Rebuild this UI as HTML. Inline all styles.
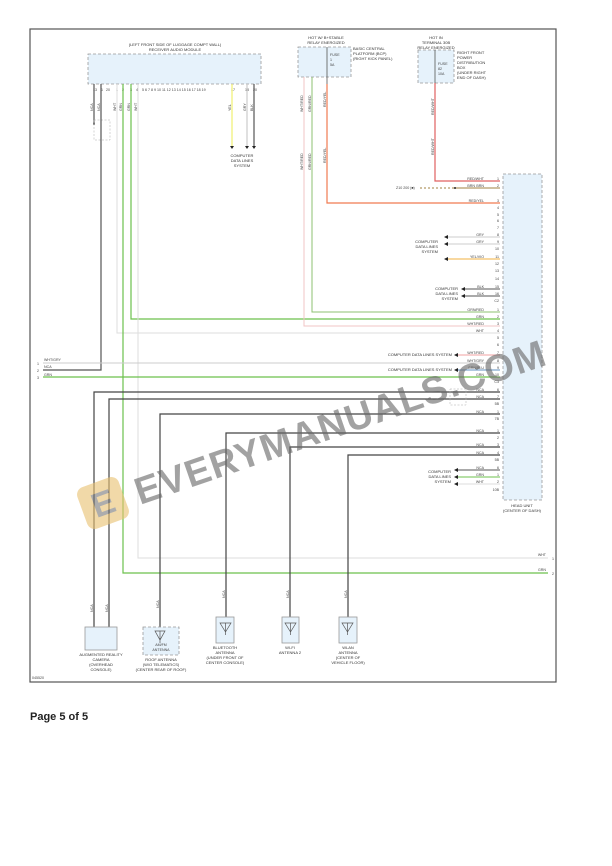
<!DOCTYPE html>
<html><head><meta charset="utf-8"><style>
html,body{margin:0;padding:0;background:#fff;}
svg{display:block;font-family:"Liberation Sans",sans-serif;}
.t{font-size:4px;fill:#333;}
.n{font-size:3.6px;fill:#444;}
</style></head><body>
<svg width="612" height="866" viewBox="0 0 612 866" xmlns="http://www.w3.org/2000/svg">
<rect x="30" y="29" width="526" height="653" fill="#fff" stroke="#555" stroke-width="1.2"/>

<!-- Receiver audio module -->
<text class="t" x="175" y="46" text-anchor="middle">(LEFT FRONT SIDE OF LUGGAGE COMPT WALL)</text>
<text class="t" x="175" y="51" text-anchor="middle">RECEIVER AUDIO MODULE</text>
<rect x="88" y="54" width="173" height="30" fill="#e6f2fb" stroke="#999" stroke-dasharray="3,2" stroke-width="0.8"/>
<g class="n">
<text x="93" y="91">13</text><text x="101" y="91">1</text><text x="106" y="91">20</text><text x="116" y="91">1</text><text x="122" y="91">2</text><text x="130" y="91">3</text><text x="136" y="91">4</text>
<text x="142" y="91">5 6 7 8 9 10 11 12 13 14 15 16 17 18 19</text><text x="231" y="91">17</text><text x="245" y="91">18</text><text x="253" y="91">20</text>
</g>
<line x1="94" y1="84" x2="94" y2="124" stroke="#555" stroke-width="1.2"/>
<circle cx="94" cy="124" r="0.9" fill="#333"/>
<rect x="94" y="120" width="16" height="20" fill="none" stroke="#aaa" stroke-dasharray="2,1.5" stroke-width="0.5"/>
<polyline points="101,84 101,370 43,370" fill="none" stroke="#555" stroke-width="1.2"/>
<polyline points="117,84 117,333 500,333" fill="none" stroke="#ddd" stroke-width="1"/>
<polyline points="123,84 123,573 548,573" fill="none" stroke="#6cc04c" stroke-width="1.2"/>
<polyline points="131,84 131,319 500,319" fill="none" stroke="#6cc04c" stroke-width="1.2"/>
<polyline points="138,84 138,558 548,558" fill="none" stroke="#ddd" stroke-width="1"/>
<g class="n">
<text transform="translate(93,111) rotate(-90)">NCA</text><text transform="translate(100,111) rotate(-90)">NCA</text>
<text transform="translate(116,111) rotate(-90)">WHT</text><text transform="translate(122,111) rotate(-90)">GRN</text>
<text transform="translate(130,111) rotate(-90)">GRN</text><text transform="translate(137,111) rotate(-90)">WHT</text>
<text transform="translate(231,111) rotate(-90)">YEL</text><text transform="translate(246,111) rotate(-90)">GRY</text><text transform="translate(253,111) rotate(-90)">BLK</text>
</g>
<line x1="232" y1="84" x2="232" y2="146" stroke="#f0f070" stroke-width="1.2"/>
<line x1="247" y1="84" x2="247" y2="146" stroke="#ccc" stroke-width="1.2"/>
<line x1="254" y1="84" x2="254" y2="146" stroke="#555" stroke-width="1.2"/>
<polygon points="230,146 234,146 232,149" fill="#222"/><polygon points="245,146 249,146 247,149" fill="#222"/><polygon points="252,146 256,146 254,149" fill="#222"/>
<text class="t" x="242" y="157" text-anchor="middle">COMPUTER</text><text class="t" x="242" y="162" text-anchor="middle">DATA LINES</text><text class="t" x="242" y="167" text-anchor="middle">SYSTEM</text>

<!-- BCP -->
<text class="t" x="326" y="39" text-anchor="middle">HOT W/ B+STABLE</text><text class="t" x="326" y="44" text-anchor="middle">RELAY ENERGIZED</text>
<rect x="298" y="47" width="53" height="30" fill="#e6f2fb" stroke="#999" stroke-dasharray="3,2" stroke-width="0.8"/>
<line x1="327" y1="47" x2="327" y2="84" stroke="#555" stroke-width="0.8"/>
<text class="n" x="330" y="56">FUSE</text><text class="n" x="330" y="61">1</text><text class="n" x="330" y="66">5A</text>
<text class="t" x="353" y="50">BASIC CENTRAL</text><text class="t" x="353" y="55">PLATFORM (BCP)</text><text class="t" x="353" y="60">(RIGHT KICK PANEL)</text>
<polyline points="304,77 304,326 500,326" fill="none" stroke="#f2c4c4" stroke-width="1"/>
<polyline points="312,77 312,312 500,312" fill="none" stroke="#8cc070" stroke-width="1"/>
<polyline points="327,84 327,203 500,203" fill="none" stroke="#f07a50" stroke-width="1.2"/>
<g class="n">
<text transform="translate(303,112) rotate(-90)">WHT/RED</text><text transform="translate(311,112) rotate(-90)">GRN/RED</text><text transform="translate(326,107) rotate(-90)">RED/YEL</text>
<text transform="translate(303,170) rotate(-90)">WHT/RED</text><text transform="translate(311,170) rotate(-90)">GRN/RED</text><text transform="translate(326,163) rotate(-90)">RED/YEL</text>
</g>

<!-- Right front PDB -->
<text class="t" x="436" y="39" text-anchor="middle">HOT IN</text><text class="t" x="436" y="44" text-anchor="middle">TERMINAL 30B</text><text class="t" x="436" y="49" text-anchor="middle">RELAY ENERGIZED</text>
<rect x="418" y="50" width="36" height="33" fill="#e6f2fb" stroke="#999" stroke-dasharray="3,2" stroke-width="0.8"/>
<line x1="435" y1="50" x2="435" y2="83" stroke="#555" stroke-width="0.8"/>
<text class="n" x="438" y="65">FUSE</text><text class="n" x="438" y="70">82</text><text class="n" x="438" y="75">10A</text>
<text class="t" x="457" y="54">RIGHT FRONT</text><text class="t" x="457" y="59">POWER</text><text class="t" x="457" y="64">DISTRIBUTION</text><text class="t" x="457" y="69">BOX</text><text class="t" x="457" y="74">(UNDER RIGHT</text><text class="t" x="457" y="79">END OF DASH)</text>
<polyline points="435,83 435,181 500,181" fill="none" stroke="#e06060" stroke-width="1.2"/>
<text class="n" transform="translate(434,115) rotate(-90)">RED/WHT</text><text class="n" transform="translate(434,155) rotate(-90)">RED/WHT</text>
<text class="n" x="396" y="189">Z10 200 (■)</text>
<line x1="420" y1="188" x2="455" y2="188" stroke="#a08040" stroke-dasharray="2,2" stroke-width="1"/>
<line x1="455" y1="188" x2="500" y2="188" stroke="#a08040" stroke-width="1"/>
<circle cx="455" cy="188" r="1" fill="#222"/>

<!-- Head unit -->
<rect x="503" y="174" width="39" height="326" fill="#e6f2fb" stroke="#999" stroke-dasharray="3,2" stroke-width="0.8"/>
<text class="t" x="522" y="507" text-anchor="middle">HEAD UNIT</text><text class="t" x="522" y="512" text-anchor="middle">(CENTER OF DASH)</text>
<g class="n" text-anchor="end">
<text x="499" y="180">1</text><text x="499" y="187">2</text><text x="499" y="202">3</text><text x="499" y="209">4</text><text x="499" y="216">5</text><text x="499" y="222">6</text><text x="499" y="229">7</text><text x="499" y="236">8</text><text x="499" y="243">9</text><text x="499" y="250">10</text><text x="499" y="258">11</text><text x="499" y="265">12</text><text x="499" y="272">13</text><text x="499" y="280">14</text><text x="499" y="288">15</text><text x="499" y="295">16</text><text x="499" y="302">C2</text>
<text x="499" y="311">1</text><text x="499" y="318">2</text><text x="499" y="325">3</text><text x="499" y="332">4</text><text x="499" y="339">5</text><text x="499" y="346">6</text><text x="499" y="354">7</text><text x="499" y="362">8</text><text x="499" y="369">9</text><text x="499" y="376">10</text><text x="499" y="383">C3</text>
<text x="499" y="391">6</text><text x="499" y="398">7</text><text x="499" y="405">5B</text><text x="499" y="413">1</text><text x="499" y="420">7B</text>
<text x="499" y="432">1</text><text x="499" y="439">2</text><text x="499" y="446">3</text><text x="499" y="454">4</text><text x="499" y="461">5B</text><text x="499" y="469">6</text><text x="499" y="476">1</text><text x="499" y="483">2</text><text x="499" y="491">10B</text>
<text x="484" y="180">RED/WHT</text><text x="484" y="187">BRN</text><text x="484" y="202">RED/YEL</text><text x="484" y="236">GRY</text><text x="484" y="243">GRY</text><text x="484" y="258">YEL/VIO</text><text x="484" y="288">BLK</text><text x="484" y="295">BLK</text>
<text x="484" y="311">GRN/RED</text><text x="484" y="318">GRN</text><text x="484" y="325">WHT/RED</text><text x="484" y="332">WHT</text><text x="484" y="354">WHT/RED</text><text x="484" y="362">WHT/GRY</text><text x="484" y="369">GRN/BLU</text><text x="484" y="376">GRN</text>
<text x="484" y="391">NCA</text><text x="484" y="398">NCA</text><text x="484" y="413">NCA</text><text x="484" y="432">NCA</text><text x="484" y="446">NCA</text><text x="484" y="454">NCA</text><text x="484" y="469">NCA</text><text x="484" y="476">GRN</text><text x="484" y="483">WHT</text>
<text x="475" y="187">BRN</text>
</g>
<g stroke-width="1" fill="none">
<line x1="447" y1="237" x2="500" y2="237" stroke="#ccc"/>
<line x1="447" y1="244" x2="500" y2="244" stroke="#ccc"/>
<line x1="447" y1="259" x2="500" y2="259" stroke="#f0b040"/>
<line x1="464" y1="289" x2="500" y2="289" stroke="#555"/>
<line x1="464" y1="296" x2="500" y2="296" stroke="#555"/>
<line x1="457" y1="355" x2="500" y2="355" stroke="#f0a0a0"/>
<line x1="43" y1="363" x2="500" y2="363" stroke="#ccc"/>
<line x1="457" y1="370" x2="500" y2="370" stroke="#6090c0"/>
<line x1="43" y1="377" x2="500" y2="377" stroke="#6cc04c" stroke-width="1.2"/>
<line x1="457" y1="470" x2="500" y2="470" stroke="#555"/>
<line x1="457" y1="477" x2="500" y2="477" stroke="#6cc04c"/>
<line x1="457" y1="484" x2="500" y2="484" stroke="#ddd"/>
</g>
<g fill="#222">
<polygon points="444,237 448,235 448,239"/><polygon points="444,244 448,242 448,246"/><polygon points="444,259 448,257 448,261"/>
<polygon points="461,289 465,287 465,291"/><polygon points="461,296 465,294 465,298"/>
<polygon points="454,355 458,353 458,357"/><polygon points="454,370 458,368 458,372"/>
<polygon points="454,470 458,468 458,472"/><polygon points="454,477 458,475 458,479"/><polygon points="454,484 458,482 458,486"/>
</g>
<g class="t" text-anchor="end">
<text x="438" y="243">COMPUTER</text><text x="438" y="248">DATA LINES</text><text x="438" y="253">SYSTEM</text>
<text x="458" y="290">COMPUTER</text><text x="458" y="295">DATA LINES</text><text x="458" y="300">SYSTEM</text>
<text x="452" y="356">COMPUTER DATA LINES SYSTEM</text><text x="452" y="371">COMPUTER DATA LINES SYSTEM</text>
<text x="451" y="473">COMPUTER</text><text x="451" y="478">DATA LINES</text><text x="451" y="483">SYSTEM</text>
</g>
<text class="n" x="37" y="365">1</text><text class="n" x="37" y="372">2</text><text class="n" x="37" y="379">3</text>
<text class="n" x="44" y="361">WHT/GRY</text><text class="n" x="44" y="368">NCA</text><text class="n" x="44" y="376">GRN</text>

<g fill="none" stroke="#444" stroke-width="1.2">
<polyline points="500,392 94,392 94,627"/>
<polyline points="500,399 109,399 109,627"/>
<polyline points="500,414 160,414 160,627"/>
<polyline points="500,433 226,433 226,617"/>
<polyline points="500,447 290,447 290,617"/>
<polyline points="500,455 348,455 348,617"/>
</g>
<rect x="450" y="389" width="16" height="16" fill="none" stroke="#aaa" stroke-dasharray="2,1.5" stroke-width="0.5"/>
<text class="n" x="552" y="560">1</text><text class="n" x="552" y="575">2</text>
<text class="n" x="546" y="556" text-anchor="end">WHT</text><text class="n" x="546" y="571" text-anchor="end">GRN</text>
<g class="n">
<text transform="translate(93,612) rotate(-90)">NCA</text><text transform="translate(108,612) rotate(-90)">NCA</text>
<text transform="translate(159,608) rotate(-90)">NCA</text><text transform="translate(225,598) rotate(-90)">NCA</text>
<text transform="translate(289,598) rotate(-90)">NCA</text><text transform="translate(347,598) rotate(-90)">NCA</text>
</g>

<rect x="85" y="627" width="32" height="23" fill="#e6f2fb" stroke="#999" stroke-width="0.8"/>
<g class="t" text-anchor="middle">
<text x="101" y="656">AUGMENTED REALITY</text><text x="101" y="661">CAMERA</text><text x="101" y="666">(OVERHEAD</text><text x="101" y="671">CONSOLE)</text>
</g>
<rect x="143" y="627" width="36" height="28" fill="#e6f2fb" stroke="#999" stroke-dasharray="3,2" stroke-width="0.8"/>
<rect x="216" y="617" width="18" height="26" fill="#e6f2fb" stroke="#999" stroke-width="0.8"/>
<rect x="282" y="617" width="17" height="26" fill="#e6f2fb" stroke="#999" stroke-width="0.8"/>
<rect x="339" y="617" width="18" height="26" fill="#e6f2fb" stroke="#999" stroke-width="0.8"/>
<g fill="none" stroke="#555" stroke-width="0.7">
<path d="M155,631 L165,631 L160,640 Z M160,631 L160,643"/>
<path d="M220,623 L231,623 L225.5,632 Z M225.5,623 L225.5,635"/>
<path d="M285,623 L296,623 L290.5,632 Z M290.5,623 L290.5,635"/>
<path d="M342,623 L353,623 L347.5,632 Z M347.5,623 L347.5,635"/>
</g>
<text class="n" x="161" y="646" text-anchor="middle">AM/FM</text><text class="n" x="161" y="651" text-anchor="middle">ANTENNA</text>
<g class="t" text-anchor="middle">
<text x="161" y="661">ROOF ANTENNA</text><text x="161" y="666">(W/O TELEMATICS)</text><text x="161" y="671">(CENTER REAR OF ROOF)</text>
</g>
<g class="t" text-anchor="middle"><text x="225" y="649">BLUETOOTH</text><text x="225" y="654">ANTENNA</text><text x="225" y="659">(UNDER FRONT OF</text><text x="225" y="664">CENTER CONSOLE)</text></g>
<g class="t" text-anchor="middle"><text x="290" y="649">WI-FI</text><text x="290" y="654">ANTENNA 2</text></g>
<g class="t" text-anchor="middle"><text x="348" y="649">WLAN</text><text x="348" y="654">ANTENNA</text><text x="348" y="659">(CENTER OF</text><text x="348" y="664">VEHICLE FLOOR)</text></g>
<text class="n" x="32" y="679">045520</text>

<g opacity="0.6">
<g transform="translate(103,503) rotate(-20)">
<rect x="-22" y="-22" width="44" height="44" rx="8" fill="#e8c070"/>
<text x="0" y="12" font-size="34" font-weight="bold" fill="#777" text-anchor="middle">E</text>
</g>
<text transform="translate(140,505) rotate(-19)" font-size="38" font-weight="bold" fill="#666" letter-spacing="1">EVERYMANUALS.COM</text>
</g>

<text x="30" y="720" font-size="11" font-weight="bold" fill="#222">Page 5 of 5</text>
</svg>
</body></html>
